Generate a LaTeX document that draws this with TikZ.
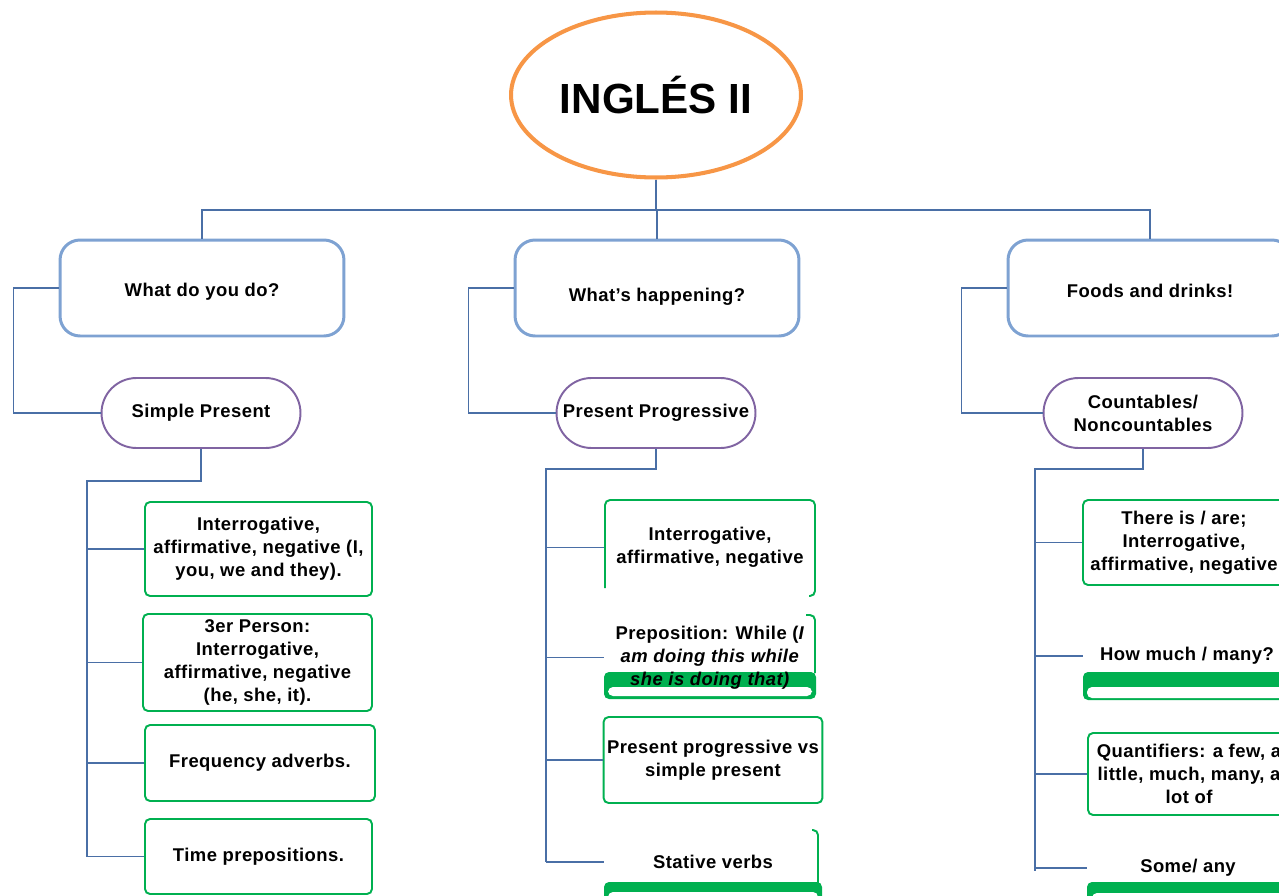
\documentclass[tikz,border=0pt]{standalone}
\usepackage{fontspec}
\usetikzlibrary{shapes.geometric}
\setmainfont{Liberation Sans}[LetterSpace=2.5]
\definecolor{titleorange}{HTML}{F79646}
\definecolor{boxblue}{HTML}{7EA2D2}
\definecolor{linkblue}{HTML}{4A6FA6}
\definecolor{pillpurple}{HTML}{8064A2}
\definecolor{leafgreen}{HTML}{00B050}
\newcommand{\lowered}[2]{\raisebox{-#1}[\height][\depth]{#2}}
\begin{document}
\begin{tikzpicture}[
    x=0.02cm, y=-0.02cm,
    font=\bfseries\fontsize{10.5}{13.2}\selectfont,
    link/.style={draw=linkblue, line width=0.7pt},
    title/.style={ellipse, draw=titleorange, line width=2.3pt, minimum width=5.8cm, minimum height=3.3cm, font=\bfseries\fontsize{24}{28}\selectfont\addfontfeature{LetterSpace=0}},
    topic/.style={draw=boxblue, line width=1.7pt, rounded corners=0.4cm, minimum width=5.68cm, minimum height=1.92cm, align=center},
    tense/.style={draw=pillpurple, line width=1.1pt, rounded corners=0.7cm, minimum width=3.98cm, minimum height=1.4cm, align=center},
    leaf/.style={draw=leafgreen, line width=1.1pt, rounded corners=0.1cm, align=center, inner sep=2pt},
    leafbare/.style={align=center, inner sep=2pt},
    greenline/.style={draw=leafgreen, line width=1.1pt, rounded corners=0.1cm}
]
    \useasboundingbox (0,0) rectangle (1279,896);
    \clip (0,0) rectangle (1279,896);

    % broken green boxes
    \fill[leafgreen, rounded corners=0.1cm] (604,672) rectangle (816,699);
    \fill[white, rounded corners=0.1cm] (608,687) rectangle (812,696);
    \draw[greenline] (806,615) -- (815,615) -- (815,673);
    \draw[greenline] (605,588) |- (815,500) -- (815,596) -- (809,596);
    \fill[leafgreen, rounded corners=0.1cm] (604,882) rectangle (822,910);
    \fill[white, rounded corners=0.1cm] (608,892) rectangle (818,910);
    \draw[greenline] (812,830) -- (818,830) -- (818,884);
    \fill[leafgreen, rounded corners=0.1cm] (1083,672) rectangle (1300,700);
    \fill[white, rounded corners=0.1cm] (1087,687) rectangle (1300,698);
    \fill[leafgreen, rounded corners=0.1cm] (1087,882) rectangle (1300,910);
    \fill[white, rounded corners=0.1cm] (1092,893) rectangle (1300,910);

    % Title and topics
    \node[title] (course) at (656,95) {INGLÉS II};
    \node[topic] (q1) at (202,288) {\lowered{2.3pt}{What do you do?}};
    \node[topic] (q2) at (657,288) {\lowered{5pt}{What's happening?}};
    \node[topic] (q3) at (1150,288) {\lowered{1.7pt}{Foods and drinks!}};

    \node[tense] (t1) at (201,413) {Simple Present};
    \node[tense] (t2) at (656,413) {Present Progressive};
    \node[tense] (t3) at (1143,413) {Countables/\\Noncountables};

    % Simple present
    \node[leaf, minimum width=4.54cm, minimum height=1.88cm] (a1) at (258.5,549) {Interrogative,\\affirmative, negative (I,\\you, we and they).};
    \node[leaf, minimum width=4.58cm, minimum height=1.94cm] (a2) at (257.5,662.5) {3er Person:\\Interrogative,\\affirmative, negative\\(he, she, it).};
    \node[leaf, minimum width=4.6cm, minimum height=1.52cm] (a3) at (260,763) {Frequency adverbs.};
    \node[leaf, minimum width=4.54cm, minimum height=1.5cm] (a4) at (258.5,856.5) {Time prepositions.};

    % Present progressive
    \node[leafbare, minimum width=4.24cm, minimum height=1.94cm] (b1) at (710,547.5) {Interrogative,\\affirmative, negative};
    \node[leafbare, minimum width=4.24cm] (b2) at (710,657.5) {Preposition: While (\textit{I}\\\textit{am doing this while}\\\textit{she is doing that)}};
    \node[leaf, minimum width=4.36cm, minimum height=1.72cm] (b3) at (713,760) {Present progressive vs\\simple present};
    \node[leafbare, minimum width=4.36cm] (b4) at (713,862) {Stative verbs};

    % Countables
    \node[leaf, minimum width=4.04cm, minimum height=1.7cm] (c1) at (1184,542.5) {There is / are;\\Interrogative,\\affirmative, negative};
    \node[leafbare, minimum width=4.16cm] (c2) at (1187,656) {How much / many?};
    \node[leaf, minimum width=4.04cm, minimum height=1.64cm] (c3) at (1189,774) {Quantifiers: a few, a\\little, much, many, a\\lot of};
    \node[leafbare, minimum width=4.04cm] (c4) at (1188,868) {Some/ any};

    % Connectors
    \coordinate (hub) at (656,210);
    \draw[link] (course.south) -- (hub);
    \draw[link] (hub) -| (q1.north);
    \draw[link] (hub) -| (q2.north);
    \draw[link] (hub) -| (q3.north);
    \foreach \q/\t in {q1/t1, q2/t2, q3/t3}
        \draw[link] (\q.west) -- ++(-45,0) |- (\t.west);

    \coordinate (sp1) at (87,481);
    \coordinate (sp2) at (546,469);
    \coordinate (sp3) at (1035,469);
    \draw[link] (t1.south) |- (sp1) -- (sp1 |- a4.west);
    \draw[link] (t2.south) |- (sp2) -- (sp2 |- b4.west);
    \draw[link] (t3.south) |- (sp3) -- ([yshift=-0.06cm]sp3 |- c4.west);
    \foreach \n in {a1,a2,a3,a4}
        \draw[link] (sp1 |- \n.west) -- (\n.west);
    \foreach \n in {b1,b2,b3,b4}
        \draw[link] (sp2 |- \n.west) -- (\n.west);
    \foreach \n in {c1,c2,c3,c4}
        \draw[link] (sp3 |- \n.west) -- (\n.west);
\end{tikzpicture}
\end{document}
